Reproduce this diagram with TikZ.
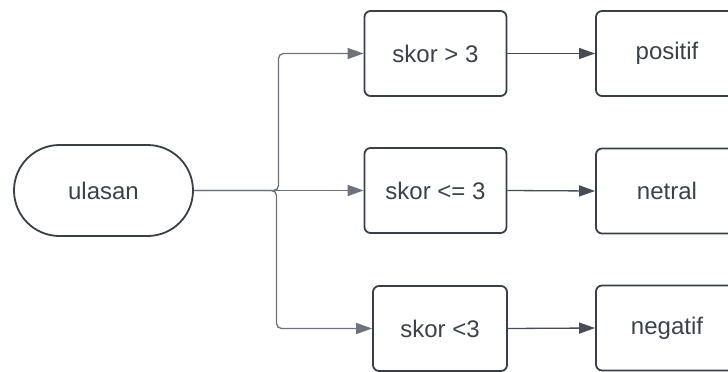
\documentclass[tikz,border=0pt]{standalone}
\usepackage{fontspec}
\setmainfont{Liberation Sans}
\usetikzlibrary{arrows.meta,shapes.misc}
\definecolor{edgeink}{HTML}{3A3F47}
\definecolor{textink}{HTML}{3D424A}
\definecolor{wireink}{HTML}{6E737B}
\definecolor{arrowink}{HTML}{474C55}
\tikzset{
  x=1pt, y=-1pt,
  base/.style={draw=edgeink, line width=1.8pt, fill=white, text=textink,
    font=\fontsize{24}{28}\selectfont, inner sep=0pt},
  stepbox/.style={base, rectangle, rounded corners=6pt,
    minimum width=142pt, minimum height=85pt},
  startbox/.style={base, rounded rectangle,
    minimum width=179pt, minimum height=91pt},
  tip/.style={-{Triangle[length=16pt,width=11pt]}},
  wire/.style={draw=wireink, line width=1.3pt, tip, rounded corners=5pt},
  link/.style={draw=arrowink, line width=1.3pt, tip},
}
\begin{document}
\begin{tikzpicture}
  \useasboundingbox (0,0) rectangle (728,372);
  \clip (0,0) rectangle (728,372);

  % source
  \node[startbox] (u) at (103.5,190.5) {ulasan};

  % conditions
  \node[stepbox] (c1) at (435.5,53.5) {skor > 3};
  \node[stepbox] (c2) at (435.5,190.5) {skor <= 3};
  \node[stepbox, minimum width=134pt] (c3) at (440,328.5) {skor <3};

  % outcomes (right edge runs past the page)
  \node[stepbox] (o1) at (667,53.5) {positif};
  \node[stepbox] (o2) at (667,191) {netral};
  \node[stepbox] (o3) at (667,328) {negatif};

  % branch points on the trunk
  \coordinate (ja) at (278.5,190.5);
  \coordinate (jb) at (276.5,190.5);

  \draw[wire] (u.east) -- (ja) |- (c1.west);
  \draw[wire] (u.east) -- (c2.west);
  \draw[wire] (u.east) -- (jb) |- (c3.west);

  \draw[link] (c1.east) -- (o1.west);
  \draw[link] (c2.east) -- (o2.west);
  \draw[link] (c3.east) -- (o3.west);
\end{tikzpicture}
\end{document}
